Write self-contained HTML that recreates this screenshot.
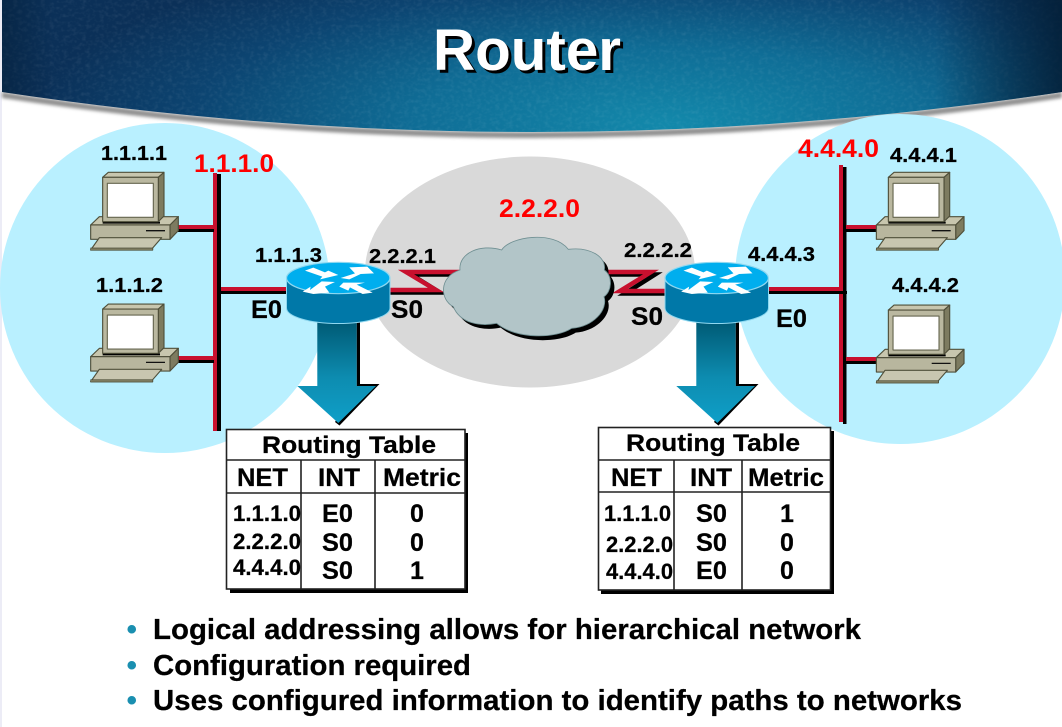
<!DOCTYPE html>
<html>
<head>
<meta charset="utf-8">
<title>Router</title>
<style>
html,body{margin:0;padding:0;background:#fff;}
svg{display:block;}
text{font-family:"Liberation Sans",Arial,sans-serif;font-weight:bold;fill:#000;}
.ip{font-size:20px;stroke:#000;stroke-width:.25px;}
.red{font-size:25px;fill:#ff0000;}
.if{font-size:25px;stroke:#000;stroke-width:.25px;}
.t{font-size:24px;stroke:#000;stroke-width:.25px;}
.h{font-size:25px;stroke:#000;stroke-width:.25px;}
.r{font-size:22px;stroke:#000;stroke-width:.25px;}
.v{font-size:25px;stroke:#000;stroke-width:.25px;}
.b{font-size:29px;stroke:#000;stroke-width:.25px;}
.d{font-size:30px;fill:#1a8fb0;}
</style>
</head>
<body>
<svg width="1062" height="727" viewBox="0 0 1062 727" xmlns="http://www.w3.org/2000/svg">
<defs>
<radialGradient id="ban" gradientUnits="userSpaceOnUse" cx="0" cy="0" r="1" gradientTransform="translate(670 125) scale(640 190)">
<stop offset="0" stop-color="#1389ab"/>
<stop offset=".4" stop-color="#0f6d96"/>
<stop offset=".75" stop-color="#0c4471"/>
<stop offset="1" stop-color="#0b3058"/>
</radialGradient>
<linearGradient id="edge" x1="0" x2="1" y1="0" y2="0">
<stop offset=".88" stop-color="#021a30" stop-opacity="0"/>
<stop offset="1" stop-color="#021a30" stop-opacity=".8"/>
</linearGradient>
<linearGradient id="edgeL" x1="0" x2="1" y1="0" y2="0">
<stop offset="0" stop-color="#021a30" stop-opacity=".45"/>
<stop offset=".05" stop-color="#021a30" stop-opacity="0"/>
</linearGradient>
<linearGradient id="arr" x1="0" x2="0" y1="0" y2="1">
<stop offset="0" stop-color="#005a75"/>
<stop offset=".55" stop-color="#0d8cb0"/>
<stop offset="1" stop-color="#0f9fc8"/>
</linearGradient>
<filter id="blur" x="-5%" y="-20%" width="110%" height="140%"><feGaussianBlur stdDeviation="1.6"/></filter>
<filter id="tex" x="0" y="0" width="100%" height="100%">
<feTurbulence type="fractalNoise" baseFrequency=".22 .28" numOctaves="2" seed="4"/>
<feColorMatrix type="matrix" values="0 0 0 0 1  0 0 0 0 1  0 0 0 0 1  1.2 0 0 0 -.5"/>
</filter>
<clipPath id="banclip"><path d="M2,0H1062V92Q532,172 2,92Z"/></clipPath>

<g id="pc" stroke="#4f4f3a" stroke-width="3.4" stroke-linejoin="round">
<path d="M32,255L58,230H295L270,255Z" fill="#c8c6ae"/>
<path d="M270,255L295,230V272L270,298Z" fill="#7d7b60"/>
<rect x="32" y="255" width="238" height="43" fill="#b8b69e"/>
<path d="M198,272H255" stroke="#111" fill="none" stroke-width="4"/>
<path d="M32,330L58,293H245L218,324V330Z" fill="#c8c6b0"/>
<path d="M32,324H218V331H32Z" fill="#7d7b60" stroke-width="2"/>
<path d="M68,112L85,97H252L235,112Z" fill="#c8c6ae"/>
<path d="M235,112L252,97V228L235,245Z" fill="#7d7b60"/>
<path d="M68,248H240" stroke="#000" stroke-width="6" fill="none"/>
<rect x="68" y="112" width="167" height="133" fill="#bab8a0"/>
<rect x="82" y="130" width="138" height="102" fill="#fff" stroke="#66664f"/>
</g>

<g id="router">
<path d="M286.5,278V308A51.7,15.5 0 0 0 390,308V278Z" fill="#0078a8" stroke="#8fd8f0" stroke-width="1"/>
<ellipse cx="338.2" cy="278" rx="51.7" ry="15.7" fill="#00aeee" stroke="#8fd8f0" stroke-width="1.2"/>
<g transform="translate(80 140) scale(.3333)" fill="#fff">
<path d="M675,392L700,383L735,397L745,392L775,405L720,418L727,410Z"/>
<path d="M782,414L825,400L808,382L862,380L882,400L842,402L808,418Z"/>
<path d="M668,455L692,440L690,450L725,424L765,426L735,440L748,458L700,462Z"/>
<path d="M778,440L790,428L855,428L830,434L878,458L848,462L810,442L805,452Z"/>
</g>
</g>

<g id="bigarrow">
<path d="M356.7,322H360V384H379.5L339.5,425.5L335,422L356.7,386Z" fill="#000"/>
<path d="M317.3,322H356.7V386H376L338.3,423L297.3,386H317.3Z" fill="url(#arr)"/>
</g>

<path id="cloudp" d="M90,150C85,100 150,70 215,90C240,50 370,30 415,88C480,80 530,110 523,150C550,170 545,215 522,230C535,270 490,320 425,325C380,355 260,360 200,310C150,320 90,310 70,260C30,240 25,170 90,150Z"/>
</defs>

<rect x="0" y="0" width="2" height="727" fill="#ececf6"/>

<!-- banner -->
<path d="M2,92Q532,172 1062,92V98Q532,178 2,98Z" fill="#8f8f8f" filter="url(#blur)"/>
<g clip-path="url(#banclip)">
<rect x="0" y="0" width="1062" height="140" fill="url(#ban)"/>
<rect x="0" y="0" width="1062" height="140" filter="url(#tex)" opacity=".12"/>
<rect x="0" y="0" width="1062" height="140" fill="url(#edge)"/>
<rect x="0" y="0" width="1062" height="140" fill="url(#edgeL)"/>
</g>
<text x="436" y="73" style="font-size:58px;fill:#000" textLength="188" lengthAdjust="spacingAndGlyphs">Router</text>
<text x="433" y="70" style="font-size:58px;fill:#fff" textLength="188" lengthAdjust="spacingAndGlyphs">Router</text>

<!-- zones -->
<circle cx="165" cy="288" r="165" fill="#b9f0ff"/>
<circle cx="900" cy="279" r="165" fill="#b9f0ff"/>
<ellipse cx="530" cy="272" rx="165" ry="115.5" fill="#d9d9d9"/>

<!-- left LAN -->
<rect x="217" y="174" width="4" height="257" fill="#000"/>
<rect x="213" y="173" width="4" height="258" fill="#c8102e"/>
<rect x="178" y="225" width="36" height="4" fill="#c8102e"/><rect x="178" y="229" width="36" height="3" fill="#000"/>
<rect x="178" y="356" width="36" height="4" fill="#c8102e"/><rect x="178" y="360" width="36" height="3" fill="#000"/>
<rect x="221" y="287" width="66" height="4" fill="#c8102e"/><rect x="221" y="291" width="66" height="3" fill="#000"/>
<use href="#pc" transform="translate(80 140) scale(.3333)"/>
<use href="#pc" transform="translate(80 271.7) scale(.3333)"/>

<!-- right LAN -->
<rect x="843" y="167" width="3.5" height="257" fill="#000"/>
<rect x="839" y="165" width="4" height="257" fill="#c8102e"/>
<rect x="846" y="225" width="32" height="4" fill="#c8102e"/><rect x="846" y="229" width="32" height="3" fill="#000"/>
<rect x="846" y="357" width="32" height="4" fill="#c8102e"/><rect x="846" y="361" width="32" height="3" fill="#000"/>
<rect x="769" y="287" width="71" height="4" fill="#c8102e"/><rect x="769" y="291" width="78" height="3" fill="#000"/>
<use href="#pc" transform="translate(865.7 140) scale(.3333)"/>
<use href="#pc" transform="translate(865.7 272.7) scale(.3333)"/>

<!-- serial links -->
<g fill="none" stroke-width="4.5" stroke-linejoin="miter">
<polyline points="390,292.5 440,292.5 411,274.5 462,274.5" stroke="#000"/>
<polyline points="390,290 436,290 406,272 462,272" stroke="#c8102e"/>
<polyline points="605,274.5 655,274.5 625,293.5 668,293.5" stroke="#000"/>
<polyline points="605,272 651,272 620,291 668,291" stroke="#c8102e"/>
</g>

<!-- cloud -->
<g transform="translate(430 220) scale(.3333)">
<use href="#cloudp" transform="translate(12 13)" fill="#000"/>
<use href="#cloudp" fill="#b2c5c8" stroke="#6f8f92" stroke-width="2.5"/>
</g>

<!-- routers and arrows -->
<use href="#bigarrow"/>
<use href="#bigarrow" transform="translate(379 0)"/>
<use href="#router"/>
<use href="#router" transform="translate(378.5 0)"/>

<!-- labels -->
<g class="labels">
<text class="ip" x="101" y="160" textLength="66" lengthAdjust="spacingAndGlyphs">1.1.1.1</text>
<text class="ip" x="96" y="292" textLength="67" lengthAdjust="spacingAndGlyphs">1.1.1.2</text>
<text class="ip" x="255" y="262" textLength="67" lengthAdjust="spacingAndGlyphs">1.1.1.3</text>
<text class="ip" x="369" y="263" textLength="67" lengthAdjust="spacingAndGlyphs">2.2.2.1</text>
<text class="ip" x="624" y="257" textLength="68" lengthAdjust="spacingAndGlyphs">2.2.2.2</text>
<text class="ip" x="748" y="261" textLength="67" lengthAdjust="spacingAndGlyphs">4.4.4.3</text>
<text class="ip" x="890" y="162" textLength="67" lengthAdjust="spacingAndGlyphs">4.4.4.1</text>
<text class="ip" x="892" y="292" textLength="67" lengthAdjust="spacingAndGlyphs">4.4.4.2</text>
<text class="red" x="194" y="172" textLength="80" lengthAdjust="spacingAndGlyphs">1.1.1.0</text>
<text class="red" x="499" y="217" textLength="81" lengthAdjust="spacingAndGlyphs">2.2.2.0</text>
<text class="red" x="798" y="157" textLength="81" lengthAdjust="spacingAndGlyphs">4.4.4.0</text>
<text class="if" x="251" y="318" textLength="31" lengthAdjust="spacingAndGlyphs">E0</text>
<text class="if" x="391" y="318" textLength="32" lengthAdjust="spacingAndGlyphs">S0</text>
<text class="if" x="631" y="325" textLength="32" lengthAdjust="spacingAndGlyphs">S0</text>
<text class="if" x="776" y="327" textLength="31" lengthAdjust="spacingAndGlyphs">E0</text>
</g>

<!-- left table -->
<rect x="230" y="433" width="238" height="160" fill="#000"/>
<rect x="226.5" y="429.5" width="238.5" height="159.5" fill="#fff" stroke="#222" stroke-width="1.6"/>
<path d="M226,460H465M226,493H465M301,460V589M375,460V589" stroke="#222" stroke-width="1.6" fill="none"/>
<text class="t" x="262" y="453" textLength="174" lengthAdjust="spacingAndGlyphs">Routing Table</text>
<text class="h" x="237" y="486" textLength="51" lengthAdjust="spacingAndGlyphs">NET</text>
<text class="h" x="318" y="486" textLength="42" lengthAdjust="spacingAndGlyphs">INT</text>
<text class="h" x="383" y="486" textLength="78" lengthAdjust="spacingAndGlyphs">Metric</text>
<text class="r" x="233" y="521" textLength="68" lengthAdjust="spacingAndGlyphs">1.1.1.0</text>
<text class="r" x="233" y="549" textLength="68" lengthAdjust="spacingAndGlyphs">2.2.2.0</text>
<text class="r" x="233" y="575" textLength="68" lengthAdjust="spacingAndGlyphs">4.4.4.0</text>
<text class="v" x="322" y="522" textLength="31" lengthAdjust="spacingAndGlyphs">E0</text>
<text class="v" x="322" y="551" textLength="31" lengthAdjust="spacingAndGlyphs">S0</text>
<text class="v" x="322" y="579" textLength="31" lengthAdjust="spacingAndGlyphs">S0</text>
<text class="v" x="410" y="522">0</text>
<text class="v" x="410" y="551">0</text>
<text class="v" x="410" y="579">1</text>

<!-- right table -->
<rect x="601" y="431" width="233" height="163" fill="#000"/>
<rect x="598.5" y="427.5" width="232" height="162.5" fill="#fff" stroke="#222" stroke-width="1.6"/>
<path d="M598,460H831M598,492H831M674,460V590M742,460V590" stroke="#222" stroke-width="1.6" fill="none"/>
<text class="t" x="626" y="451" textLength="174" lengthAdjust="spacingAndGlyphs">Routing Table</text>
<text class="h" x="611" y="486" textLength="51" lengthAdjust="spacingAndGlyphs">NET</text>
<text class="h" x="690" y="486" textLength="42" lengthAdjust="spacingAndGlyphs">INT</text>
<text class="h" x="748" y="486" textLength="76" lengthAdjust="spacingAndGlyphs">Metric</text>
<text class="r" x="604" y="521" textLength="67" lengthAdjust="spacingAndGlyphs">1.1.1.0</text>
<text class="r" x="606" y="552" textLength="67" lengthAdjust="spacingAndGlyphs">2.2.2.0</text>
<text class="r" x="606" y="579" textLength="67" lengthAdjust="spacingAndGlyphs">4.4.4.0</text>
<text class="v" x="696" y="522" textLength="31" lengthAdjust="spacingAndGlyphs">S0</text>
<text class="v" x="696" y="551" textLength="31" lengthAdjust="spacingAndGlyphs">S0</text>
<text class="v" x="696" y="579" textLength="31" lengthAdjust="spacingAndGlyphs">E0</text>
<text class="v" x="780" y="522">1</text>
<text class="v" x="780" y="551">0</text>
<text class="v" x="780" y="579">0</text>

<!-- bullets -->
<text class="d" x="126.5" y="639">•</text>
<text class="d" x="126.5" y="675">•</text>
<text class="d" x="126.5" y="710">•</text>
<text class="b" x="153" y="639" textLength="708" lengthAdjust="spacingAndGlyphs">Logical addressing allows for hierarchical network</text>
<text class="b" x="153" y="675" textLength="318" lengthAdjust="spacingAndGlyphs">Configuration required</text>
<text class="b" x="153" y="710" textLength="809" lengthAdjust="spacingAndGlyphs">Uses configured information to identify paths to networks</text>
</svg>
</body>
</html>
